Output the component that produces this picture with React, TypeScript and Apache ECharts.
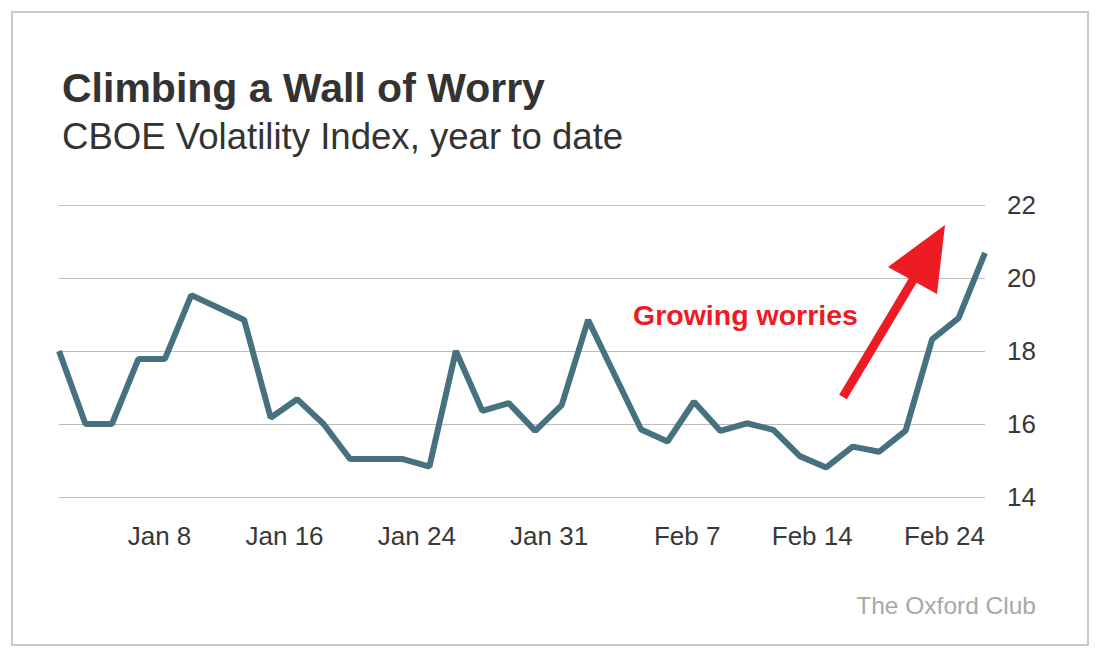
import React, { useEffect, useRef } from "react";
import * as echarts from "echarts";

// Trading-day categories (labels shown every fifth session)
const dates = [
  "Jan 1", "Jan 2", "Jan 3", "Jan 4", "Jan 5", "Jan 8", "Jan 9", "Jan 10", "Jan 11", "Jan 12",
  "Jan 16", "Jan 17", "Jan 18", "Jan 19", "Jan 23", "Jan 24", "Jan 25", "Jan 26", "Jan 29", "Jan 30",
  "Jan 31", "Feb 1", "Feb 2", "Feb 5", "Feb 6", "Feb 7", "Feb 8", "Feb 9", "Feb 12", "Feb 13",
  "Feb 14", "Feb 15", "Feb 16", "Feb 21", "Feb 23", "Feb 24",
];

// CBOE Volatility Index closes
const vix = [
  18.0, 16.0, 16.0, 17.78, 17.78, 19.53, 19.19, 18.85, 16.17, 16.68,
  16.0, 15.04, 15.04, 15.04, 14.83, 18.0, 16.36, 16.57, 15.81, 16.52,
  18.85, 17.35, 15.85, 15.52, 16.61, 15.81, 16.02, 15.84, 15.12, 14.81,
  15.38, 15.24, 15.82, 18.32, 18.9, 20.69,
];

const yMin = 14;
const yMax = 22;
const yStep = 2;

const TITLE = "Climbing a Wall of Worry";
const SUBTITLE = "CBOE Volatility Index, year to date";
const NOTE = "Growing worries";
const SOURCE = "The Oxford Club";

const RED = "#ED1C24";
const LINE = "#46717F";
const FONT = "'Liberation Sans', Arial, sans-serif";

function textEl(x: number, y: number, text: string, o: any) {
  return {
    type: "text",
    x,
    y,
    silent: true,
    style: {
      text,
      fontFamily: FONT,
      align: o.align || "left",
      verticalAlign: "middle",
      textAlign: o.align || "left",
      textVerticalAlign: "middle",
      fontSize: o.fontSize,
      fontWeight: o.fontWeight || "normal",
      fill: o.fill,
    },
  };
}

export default function App() {
  const ref = useRef<HTMLDivElement>(null);

  useEffect(() => {
    if (!ref.current) return;
    const chart = echarts.init(ref.current, undefined, { renderer: "svg" });
    chart.setOption({
      animation: false,
      backgroundColor: "#ffffff",
      grid: { left: 59, right: 115, top: 205, bottom: 159, containLabel: false },
      xAxis: {
        type: "category",
        data: dates,
        boundaryGap: false,
        axisLine: { show: false },
        axisTick: { show: false },
        splitLine: { show: false },
        axisLabel: {
          interval: (i: number) => i > 0 && i % 5 === 0,
          align: "right",
          margin: 26,
          fontSize: 26,
          fontFamily: FONT,
          color: "#383838",
        },
      },
      yAxis: {
        type: "value",
        position: "right",
        min: yMin,
        max: yMax,
        interval: yStep,
        axisLine: { show: false },
        axisTick: { show: false },
        splitLine: { lineStyle: { color: "#bdbdbd", width: 1 } },
        axisLabel: {
          margin: 22,
          fontSize: 26,
          fontFamily: FONT,
          color: "#383838",
        },
      },
      series: [
        {
          type: "line",
          data: vix,
          symbol: "none",
          lineStyle: { color: LINE, width: 6 },
          z: 3,
        },
      ],
      graphic: [
        {
          type: "rect",
          silent: true,
          z: 0,
          shape: { x: 12, y: 12, width: 1076, height: 633 },
          style: { fill: "none", stroke: "#c9c9c9", lineWidth: 2 },
        },
        textEl(62, 88, TITLE, { fontSize: 41, fontWeight: "bold", fill: "#333333" }),
        textEl(62, 136, SUBTITLE, { fontSize: 36.6, fill: "#333333" }),
        textEl(633, 315, NOTE, { fontSize: 28.5, fontWeight: "bold", fill: RED }),
        textEl(1036, 605, SOURCE, { fontSize: 24.5, fill: "#a8a8a8", align: "right" }),
        {
          type: "line",
          silent: true,
          z: 10,
          shape: { x1: 843, y1: 397, x2: 916, y2: 275 },
          style: { stroke: RED, lineWidth: 9, lineCap: "butt" },
        },
        {
          type: "polygon",
          silent: true,
          z: 10,
          shape: { points: [[945, 225], [888, 267], [937, 294]] },
          style: { fill: RED },
        },
      ],
    });
    return () => chart.dispose();
  }, []);

  return (
    <div
      ref={ref}
      style={{ position: "absolute", left: 0, top: 0, width: 1100, height: 656, background: "#fff" }}
    />
  );
}
